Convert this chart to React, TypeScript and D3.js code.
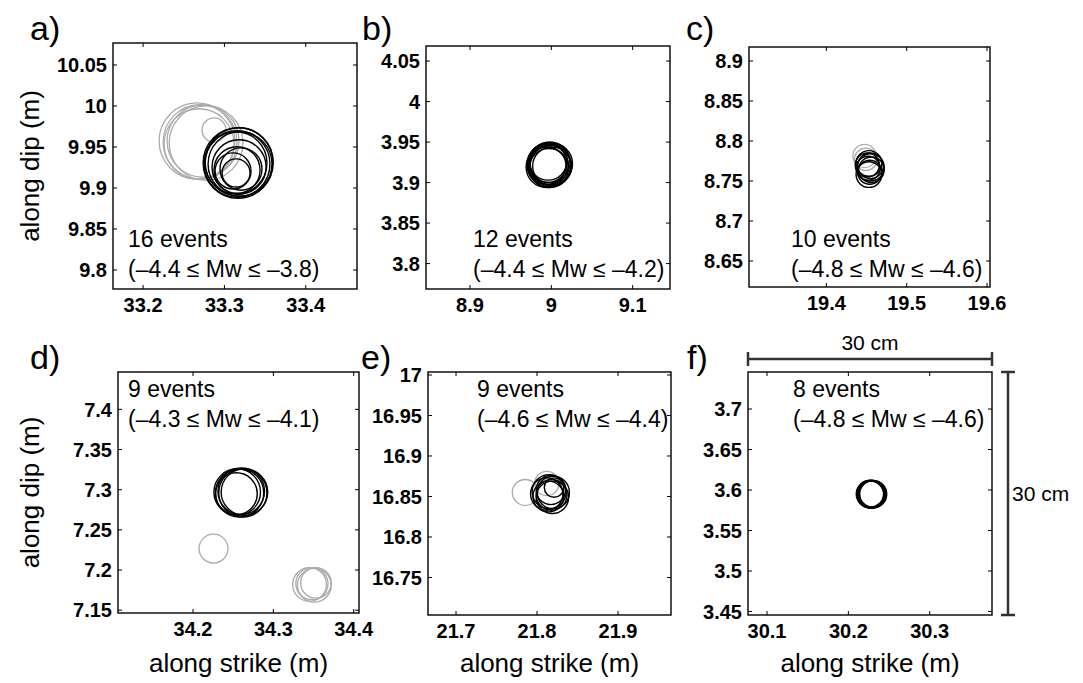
import React from 'react';
import * as d3 from 'd3';

type C = [number, number, number]; // [along strike (m), along dip (m), radius (m)]

// ---------- data (metres) ----------
const aGray: C[] = [
  [33.2663, 9.9573, 0.0466],
  [33.27, 9.9561, 0.0454],
  [33.2737, 9.9573, 0.0442],
  [33.2688, 9.9536, 0.043],
  [33.2774, 9.9548, 0.0454],
  [33.2872, 9.9707, 0.0147],
];
const aBlack: C[] = [
  [33.3168, 9.9305, 0.043],
  [33.318, 9.9317, 0.0418],
  [33.3155, 9.9292, 0.0405],
  [33.3192, 9.9292, 0.0393],
  [33.3143, 9.9305, 0.038],
  [33.318, 9.9256, 0.0332],
  [33.3155, 9.9219, 0.0283],
  [33.3204, 9.9231, 0.0258],
  [33.3106, 9.9207, 0.0221],
  [33.3143, 9.9183, 0.0172],
];
const bGray: C[] = [];
const bBlack: C[] = [
  [8.996, 3.922, 0.025],
  [8.998, 3.92, 0.026],
  [8.995, 3.924, 0.024],
  [8.999, 3.921, 0.025],
  [8.997, 3.918, 0.024],
  [9.0, 3.923, 0.026],
  [8.996, 3.926, 0.023],
  [8.994, 3.919, 0.025],
  [8.998, 3.925, 0.025],
  [9.001, 3.92, 0.024],
  [8.997, 3.922, 0.027],
  [8.995, 3.921, 0.023],
];
const cGray: C[] = [
  [19.4475, 8.7813, 0.0145],
  [19.449, 8.777, 0.014],
];
const cBlack: C[] = [
  [19.453, 8.772, 0.016],
  [19.455, 8.769, 0.016],
  [19.452, 8.766, 0.015],
  [19.456, 8.764, 0.016],
  [19.454, 8.761, 0.015],
  [19.453, 8.758, 0.016],
  [19.455, 8.767, 0.017],
  [19.451, 8.77, 0.015],
];
const dGray: C[] = [
  [34.2255, 7.2267, 0.018],
  [34.345, 7.182, 0.021],
  [34.348, 7.183, 0.02],
  [34.351, 7.181, 0.021],
  [34.353, 7.184, 0.019],
];
const dBlack: C[] = [
  [34.255, 7.297, 0.029],
  [34.258, 7.296, 0.03],
  [34.26, 7.298, 0.029],
  [34.262, 7.296, 0.03],
  [34.264, 7.297, 0.029],
  [34.254, 7.295, 0.026],
];
const eGray: C[] = [
  [21.7855, 16.855, 0.016],
  [21.812, 16.866, 0.015],
];
const eBlack: C[] = [
  [21.812, 16.853, 0.02],
  [21.815, 16.856, 0.021],
  [21.818, 16.852, 0.019],
  [21.82, 16.855, 0.02],
  [21.814, 16.85, 0.019],
  [21.817, 16.858, 0.018],
  [21.819, 16.849, 0.02],
  [21.821, 16.861, 0.012],
];
const fGray: C[] = [];
const fBlack: C[] = [
  [30.2265, 3.595, 0.0168],
  [30.2272, 3.5955, 0.0165],
  [30.228, 3.5948, 0.017],
  [30.2288, 3.5952, 0.0166],
  [30.2295, 3.5946, 0.0168],
  [30.23, 3.5953, 0.0164],
  [30.2305, 3.5949, 0.0167],
  [30.227, 3.5944, 0.0166],
];

const panelTitles = ['a)', 'b)', 'c)', 'd)', 'e)', 'f)'];
const eventCounts = ['16 events', '12 events', '10 events', '9 events', '9 events', '8 events'];
const magRanges = [
  '(–4.4 ≤ Mw ≤ –3.8)',
  '(–4.4 ≤ Mw ≤ –4.2)',
  '(–4.8 ≤ Mw ≤ –4.6)',
  '(–4.3 ≤ Mw ≤ –4.1)',
  '(–4.6 ≤ Mw ≤ –4.4)',
  '(–4.8 ≤ Mw ≤ –4.6)',
];
const grayCircles = [aGray, bGray, cGray, dGray, eGray, fGray];
const blackCircles = [aBlack, bBlack, cBlack, dBlack, eBlack, fBlack];

// axis extents (metres); every panel spans 0.3 m x 0.3 m
const viewSize = 0.3;
const xStarts = [33.163, 8.8459, 19.3037, 34.1066, 21.6654, 30.0766];
const yTops = [10.0768, 4.0686, 8.9175, 7.4465, 17.0037, 3.7457];

const xTicks = [
  [33.2, 33.3, 33.4],
  [8.9, 9, 9.1],
  [19.4, 19.5, 19.6],
  [34.2, 34.3, 34.4],
  [21.7, 21.8, 21.9],
  [30.1, 30.2, 30.3],
];
const yTicks = [
  [9.8, 9.85, 9.9, 9.95, 10, 10.05],
  [3.8, 3.85, 3.9, 3.95, 4, 4.05],
  [8.65, 8.7, 8.75, 8.8, 8.85, 8.9],
  [7.15, 7.2, 7.25, 7.3, 7.35, 7.4],
  [16.75, 16.8, 16.85, 16.9, 16.95, 17],
  [3.45, 3.5, 3.55, 3.6, 3.65, 3.7],
];
const scaleBarLabel = '30 cm';
const yAxisTitle = 'along dip (m)';
const xAxisTitle = 'along strike (m)';

// ---------- layout ----------
const boxes = [
  { x: 113, y: 43, w: 244, h: 246 },
  { x: 426, y: 46, w: 244, h: 243 },
  { x: 749, y: 47, w: 241, h: 240 },
  { x: 118, y: 372, w: 241, h: 241 },
  { x: 428, y: 372, w: 243, h: 243 },
  { x: 748, y: 372, w: 244, h: 243 },
];
const titlePos = [
  [30, 40], [362, 40], [686, 40],
  [30, 369], [361, 369], [687, 369],
];
const notePos = [
  [128, 247], [473, 247], [791, 247],
  [128, 397], [477, 397], [793, 397],
];

const FONT = '"Liberation Sans", Arial, Helvetica, sans-serif';
const GRAY = '#ababab';

function Panel({ i }: { i: number }) {
  const b = boxes[i];
  const x = d3.scaleLinear().domain([xStarts[i], xStarts[i] + viewSize]).range([b.x, b.x + b.w]);
  const y = d3.scaleLinear().domain([yTops[i] - viewSize, yTops[i]]).range([b.y + b.h, b.y]);
  const tk = 4;
  const rx = (r: number) => Math.abs(x(r) - x(0));
  const ry = (r: number) => Math.abs(y(r) - y(0));
  const bottom = b.y + b.h;
  const right = b.x + b.w;
  return (
    <g>
      {grayCircles[i].map((c, k) => (
        <ellipse key={'g' + k} cx={x(c[0])} cy={y(c[1])} rx={rx(c[2])} ry={ry(c[2])}
          fill="none" stroke={GRAY} strokeWidth={1.3} />
      ))}
      {blackCircles[i].map((c, k) => (
        <ellipse key={'b' + k} cx={x(c[0])} cy={y(c[1])} rx={rx(c[2])} ry={ry(c[2])}
          fill="none" stroke="#000" strokeWidth={1.4} />
      ))}
      <rect x={b.x} y={b.y} width={b.w} height={b.h} fill="none" stroke="#000" strokeWidth={1.4} />
      {xTicks[i].map((t) => (
        <g key={'xt' + t}>
          <line x1={x(t)} x2={x(t)} y1={bottom} y2={bottom - tk} stroke="#000" strokeWidth={1} />
          <line x1={x(t)} x2={x(t)} y1={b.y} y2={b.y + tk} stroke="#000" strokeWidth={1} />
          <text x={x(t)} y={bottom + 23} textAnchor="middle" fontFamily={FONT} fontWeight="bold" fontSize={20}>
            {String(t)}
          </text>
        </g>
      ))}
      {yTicks[i].map((t) => (
        <g key={'yt' + t}>
          <line x1={b.x} x2={b.x + tk} y1={y(t)} y2={y(t)} stroke="#000" strokeWidth={1} />
          <line x1={right} x2={right - tk} y1={y(t)} y2={y(t)} stroke="#000" strokeWidth={1} />
          <text x={b.x - 6} y={y(t)} dy="0.36em" textAnchor="end" fontFamily={FONT} fontWeight="bold" fontSize={20}>
            {String(t)}
          </text>
        </g>
      ))}
      <text x={titlePos[i][0]} y={titlePos[i][1]} fontFamily={FONT} fontSize={34}>{panelTitles[i]}</text>
      <text x={notePos[i][0]} y={notePos[i][1]} fontFamily={FONT} fontSize={23}>{eventCounts[i]}</text>
      <text x={notePos[i][0]} y={notePos[i][1] + 30} fontFamily={FONT} fontSize={23}>{magRanges[i]}</text>
    </g>
  );
}

function ScaleBars() {
  const i = 5;
  const b = boxes[i];
  const x = d3.scaleLinear().domain([xStarts[i], xStarts[i] + viewSize]).range([b.x, b.x + b.w]);
  const y = d3.scaleLinear().domain([yTops[i] - viewSize, yTops[i]]).range([b.y + b.h, b.y]);
  const x0 = x(xStarts[i]);
  const x1 = x(xStarts[i] + viewSize);
  const hy = 359;
  const y0 = y(yTops[i]);
  const y1 = y(yTops[i] - viewSize);
  const vx = 1008;
  const col = '#333';
  return (
    <g>
      <line x1={x0} x2={x1} y1={hy} y2={hy} stroke={col} strokeWidth={2.5} />
      <line x1={x0} x2={x0} y1={hy - 7} y2={hy + 7} stroke={col} strokeWidth={2.5} />
      <line x1={x1} x2={x1} y1={hy - 7} y2={hy + 7} stroke={col} strokeWidth={2.5} />
      <text x={(x0 + x1) / 2} y={hy - 9} textAnchor="middle" fontFamily={FONT} fontSize={21}>{scaleBarLabel}</text>
      <line x1={vx} x2={vx} y1={y0} y2={y1} stroke={col} strokeWidth={2.5} />
      <line x1={vx - 7} x2={vx + 7} y1={y0} y2={y0} stroke={col} strokeWidth={2.5} />
      <line x1={vx - 7} x2={vx + 7} y1={y1} y2={y1} stroke={col} strokeWidth={2.5} />
      <text x={1012} y={(y0 + y1) / 2 + 7} fontFamily={FONT} fontSize={21}>{scaleBarLabel}</text>
    </g>
  );
}

export default function App() {
  const yLabelCenters = [
    [39, (boxes[0].y + boxes[0].y + boxes[0].h) / 2],
    [39, (boxes[3].y + boxes[3].y + boxes[3].h) / 2],
  ];
  const xLabelCenters = [3, 4, 5].map((i) => boxes[i].x + boxes[i].w / 2);
  return (
    <svg width={1083} height={683} style={{ position: 'absolute', left: 0, top: 0, background: '#fff' }}>
      <rect x={0} y={0} width={1083} height={683} fill="#fff" />
      {[0, 1, 2, 3, 4, 5].map((i) => <Panel key={i} i={i} />)}
      <ScaleBars />
      {yLabelCenters.map(([cx, cy], k) => (
        <text key={'yl' + k} transform={`translate(${cx},${cy}) rotate(-90)`} textAnchor="middle"
          fontFamily={FONT} fontSize={26}>{yAxisTitle}</text>
      ))}
      {xLabelCenters.map((cx, k) => (
        <text key={'xl' + k} x={cx} y={672} textAnchor="middle" fontFamily={FONT} fontSize={26}>{xAxisTitle}</text>
      ))}
    </svg>
  );
}
